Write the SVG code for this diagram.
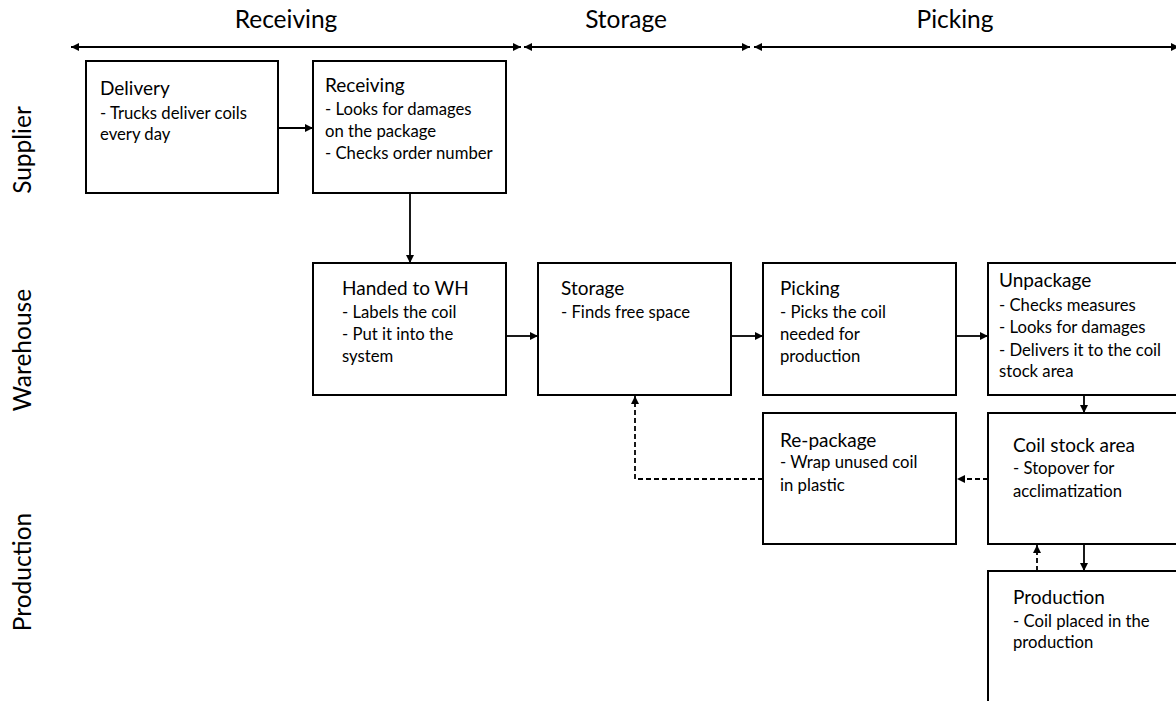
<svg xmlns="http://www.w3.org/2000/svg" width="1176" height="701" viewBox="0 0 1176 701">
  <defs>
    <marker id="arrow" markerUnits="userSpaceOnUse" markerWidth="9" markerHeight="8" refX="8" refY="4" orient="auto-start-reverse">
      <path d="M0,0 L8,4 L0,8 z" fill="#000"/>
    </marker>
    <style>
      .box { fill: #fff; stroke: #000; stroke-width: 2; }
      .title { font-family: Lato, "Liberation Sans", sans-serif; font-size: 19px; fill: #000; }
      .body { font-family: Lato, "Liberation Sans", sans-serif; font-size: 16.7px; fill: #000; }
      .head { font-family: Lato, "Liberation Sans", sans-serif; font-size: 24.5px; fill: #000; text-anchor: middle; }
      .edge { fill: none; stroke: #000; stroke-width: 1.8; }
      .dash { stroke-dasharray: 5 3; }
    </style>
  </defs>

  <rect width="1176" height="701" fill="#fff"/>

  <!-- phase headers -->
  <g id="phases">
    <text class="head" x="286" y="28">Receiving</text>
    <text class="head" x="626" y="28">Storage</text>
    <text class="head" x="955" y="28">Picking</text>
    <line class="edge" x1="71" y1="47" x2="521" y2="47" marker-start="url(#arrow)" marker-end="url(#arrow)"/>
    <line class="edge" x1="524" y1="47" x2="750" y2="47" marker-start="url(#arrow)" marker-end="url(#arrow)"/>
    <line class="edge" x1="754" y1="47" x2="1179" y2="47" marker-start="url(#arrow)" marker-end="url(#arrow)"/>
  </g>

  <!-- swimlane labels -->
  <g id="lanes">
    <text class="head" transform="translate(31,150) rotate(-90)">Supplier</text>
    <text class="head" transform="translate(31,350) rotate(-90)">Warehouse</text>
    <text class="head" transform="translate(31,572) rotate(-90)">Production</text>
  </g>

  <!-- connectors -->
  <g id="connectors">
    <line class="edge" x1="278" y1="128" x2="313" y2="128" marker-end="url(#arrow)"/>
    <line class="edge" x1="410" y1="193" x2="410" y2="263" marker-end="url(#arrow)"/>
    <line class="edge" x1="506" y1="336" x2="538" y2="336" marker-end="url(#arrow)"/>
    <line class="edge" x1="731" y1="336" x2="763" y2="336" marker-end="url(#arrow)"/>
    <line class="edge" x1="956" y1="336" x2="988" y2="336" marker-end="url(#arrow)"/>
    <line class="edge" x1="1084" y1="395" x2="1084" y2="413" marker-end="url(#arrow)"/>
    <line class="edge dash" x1="988" y1="479" x2="957" y2="479" marker-end="url(#arrow)"/>
    <polyline class="edge dash" points="763,479 635,479 635,396" marker-end="url(#arrow)"/>
    <line class="edge" x1="1084" y1="544" x2="1084" y2="571" marker-end="url(#arrow)"/>
    <line class="edge dash" x1="1037" y1="571" x2="1037" y2="545" marker-end="url(#arrow)"/>
  </g>

  <!-- process steps -->
  <g id="delivery">
    <rect class="box" x="86" y="61" width="192" height="132"/>
    <text class="title" x="100" y="95">Delivery</text>
    <text class="body" x="100" y="119">- Trucks deliver coils</text>
    <text class="body" x="100" y="140">every day</text>
  </g>

  <g id="receiving">
    <rect class="box" x="313" y="61" width="193" height="132"/>
    <text class="title" x="325" y="92">Receiving</text>
    <text class="body" x="325" y="115">- Looks for damages</text>
    <text class="body" x="325" y="137">on the package</text>
    <text class="body" x="325" y="159">- Checks order number</text>
  </g>

  <g id="handed-to-wh">
    <rect class="box" x="313" y="263" width="193" height="132"/>
    <text class="title" x="342" y="295">Handed to WH</text>
    <text class="body" x="342" y="318">- Labels the coil</text>
    <text class="body" x="342" y="340">- Put it into the</text>
    <text class="body" x="342" y="362">system</text>
  </g>

  <g id="storage">
    <rect class="box" x="538" y="263" width="193" height="132"/>
    <text class="title" x="561" y="295">Storage</text>
    <text class="body" x="561" y="318">- Finds free space</text>
  </g>

  <g id="picking">
    <rect class="box" x="763" y="263" width="193" height="132"/>
    <text class="title" x="780" y="295">Picking</text>
    <text class="body" x="780" y="318">- Picks the coil</text>
    <text class="body" x="780" y="340">needed for</text>
    <text class="body" x="780" y="362">production</text>
  </g>

  <g id="unpackage">
    <rect class="box" x="988" y="263" width="193" height="132"/>
    <text class="title" x="999" y="287">Unpackage</text>
    <text class="body" x="999" y="311">- Checks measures</text>
    <text class="body" x="999" y="333">- Looks for damages</text>
    <text class="body" x="999" y="356">- Delivers it to the coil</text>
    <text class="body" x="999" y="377">stock area</text>
  </g>

  <g id="re-package">
    <rect class="box" x="763" y="413" width="193" height="131"/>
    <text class="title" x="780" y="447">Re-package</text>
    <text class="body" x="780" y="468">- Wrap unused coil</text>
    <text class="body" x="780" y="491">in plastic</text>
  </g>

  <g id="coil-stock-area">
    <rect class="box" x="988" y="413" width="193" height="131"/>
    <text class="title" x="1013" y="452">Coil stock area</text>
    <text class="body" x="1013" y="474">- Stopover for</text>
    <text class="body" x="1013" y="497">acclimatization</text>
  </g>

  <g id="production">
    <rect class="box" x="988" y="571" width="193" height="140"/>
    <text class="title" x="1013" y="604">Production</text>
    <text class="body" x="1013" y="627">- Coil placed in the</text>
    <text class="body" x="1013" y="648">production</text>
  </g>
</svg>
